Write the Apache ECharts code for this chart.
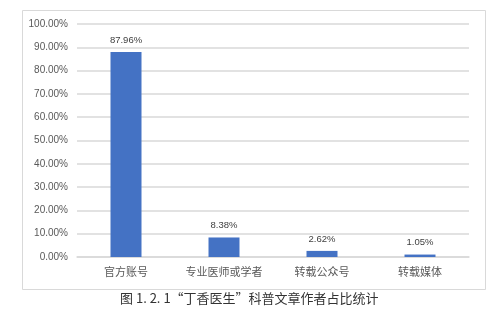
<!DOCTYPE html>
<html><head><meta charset="utf-8">
<script src="https://cdn.jsdelivr.net/npm/echarts@6/dist/echarts.min.js"></script>
<style>html,body{margin:0;padding:0;background:#fff}#c{width:503px;height:316px}</style>
</head><body><div id="c"></div>
<script>
var categories = ['官方账号', '专业医师或学者', '转载公众号', '转载媒体'];
var values = [87.96, 8.38, 2.62, 1.05];
var labelTexts = ['87.96%', '8.38%', '2.62%', '1.05%'];
var caption = '图 1. 2. 1“丁香医生”科普文章作者占比统计';

var chart = echarts.init(document.getElementById('c'), null, {renderer: 'canvas'});
chart.setOption({
  animation: false,
  backgroundColor: '#fff',
  graphic: [{
    type: 'rect', left: 20, top: 8, shape: {width: 463, height: 279},
    style: {fill: 'none', stroke: '#d9d9d9', lineWidth: 1}, z: -1
  }, {
    type: 'text', left: 120, top: 292,
    style: {text: caption, fill: '#333', font: '13px "Noto Sans CJK SC"'}
  }],
  grid: {left: 77, right: 34, top: 24, bottom: 59},
  xAxis: {
    type: 'category', data: categories,
    axisLine: {lineStyle: {color: '#d9d9d9', width: 1.5}},
    axisTick: {show: false},
    axisLabel: {interval: 0, hideOverlap: false, color: '#595959', fontSize: 11, margin: 9, fontFamily: '"Noto Sans CJK SC"'}
  },
  yAxis: {
    type: 'value', min: 0, max: 100, interval: 10,
    axisLine: {show: false}, axisTick: {show: false},
    splitLine: {lineStyle: {color: '#d9d9d9', width: 1.5}},
    axisLabel: {color: '#595959', fontSize: 10, margin: 9, fontFamily: 'Arial, "Liberation Sans"',
      formatter: function (v) { return v.toFixed(2) + '%'; }}
  },
  series: [{
    type: 'bar', data: values, barWidth: 31,
    itemStyle: {color: '#4472C4'},
    label: {show: true, position: 'top', distance: 7, color: '#404040', fontSize: 9.5,
      fontFamily: 'Arial, "Liberation Sans"',
      formatter: function (p) { return labelTexts[p.dataIndex]; }}
  }]
});
</script></body></html>
